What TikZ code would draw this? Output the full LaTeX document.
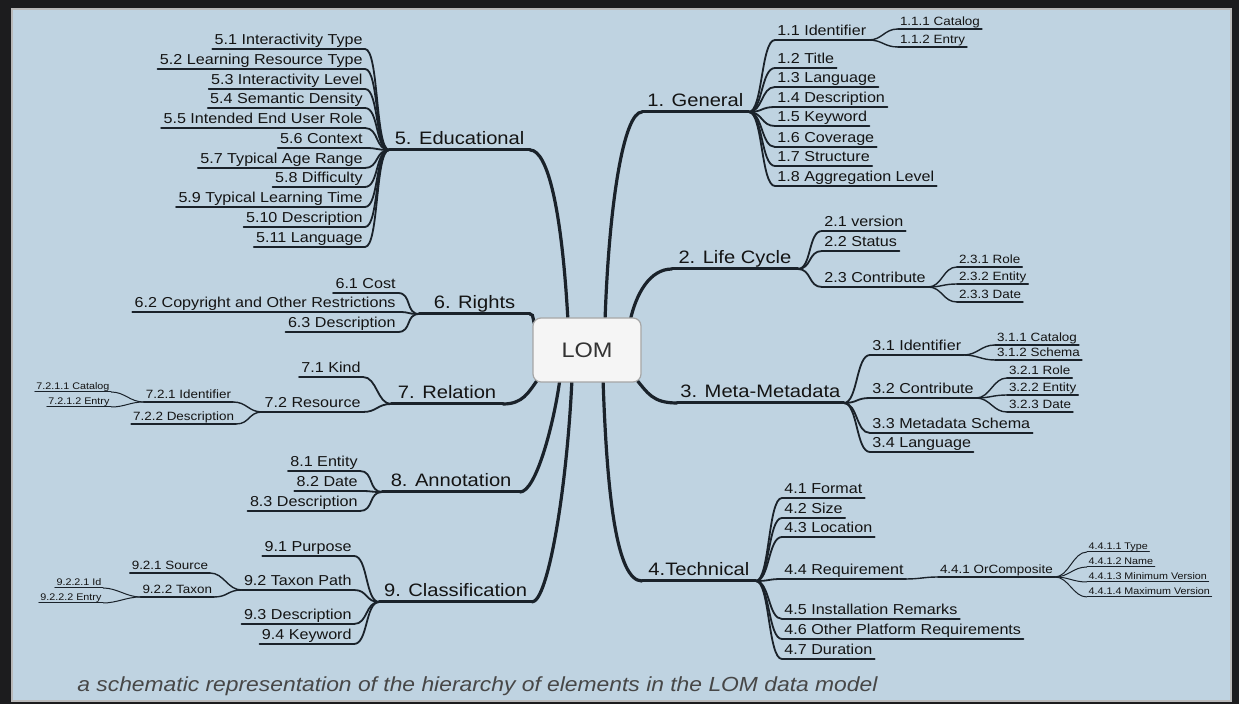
\documentclass[tikz,border=0pt]{standalone}
\usepackage{fontspec}
\setmainfont{Liberation Sans}[FakeStretch=1.12]
\usepackage{tikz}
\usetikzlibrary{backgrounds}

\definecolor{paneblue}{RGB}{191,211,225}
\definecolor{framedark}{RGB}{28,28,30}
\definecolor{inkline}{RGB}{26,34,42}
\definecolor{inktext}{RGB}{20,20,20}

\tikzset{
  uline/.style={append after command={(\tikzlastnode.south west)
      edge[draw=inkline, line width=#1, line cap=round] (\tikzlastnode.south east)}},
  mainlbl/.style={font=\fontsize{9}{10}\selectfont, text=inktext,
      inner xsep=1pt, inner ysep=0pt, text height=7pt, text depth=2.5pt, uline=1.5pt},
  lvltwo/.style={font=\fontsize{7.2}{8}\selectfont, text=inktext,
      inner xsep=1pt, inner ysep=0pt, text height=5.6pt, text depth=2pt, uline=0.9pt},
  lvlthree/.style={font=\fontsize{6}{7}\selectfont, text=inktext,
      inner xsep=0.8pt, inner ysep=0pt, text height=4.6pt, text depth=1.3pt, uline=0.7pt},
  lvlfour/.style={font=\fontsize{4.8}{5.5}\selectfont, text=inktext,
      inner xsep=0.6pt, inner ysep=0pt, text height=3.7pt, text depth=1pt, uline=0.5pt},
  lombox/.style={draw=gray!70, fill=gray!8, rounded corners=4pt, line width=0.6pt,
      minimum width=54pt, minimum height=32pt, font=\fontsize{10.5}{12}\selectfont, text=black!80},
  twig/.style={to path={.. controls +(#1,0) and +(-#1,0) .. (\tikztotarget)}},
  twig/.default=14,
  trunk/.style={draw=inkline, line width=1.6pt, line cap=round},
  twotwig/.style={draw=inkline, line width=0.9pt, twig},
  threetwig/.style={draw=inkline, line width=0.7pt, twig},
  fourtwig/.style={draw=inkline, line width=0.5pt, twig},
  caption/.style={font=\fontsize{10.2}{12}\selectfont\itshape, text=black!72, inner sep=0pt}
}

\begin{document}
\begin{tikzpicture}[x=0.5pt, y=-0.5pt]
\useasboundingbox (0, 0) rectangle (1239, 704);
\begin{scope}[on background layer]
\fill[framedark] (0, 0) rectangle (1239, 704);
\draw[gray!55, line width=0.8pt, fill=paneblue] (12, 9) rectangle (1231, 701);
\end{scope}

% centre
\draw (587, 350) node[lombox] (lom) {LOM};

% main branches
\draw (642, 112) node[mainlbl, anchor=south west, minimum width=53pt] (gen) {1. General};
\draw (672, 269) node[mainlbl, anchor=south west, minimum width=62.5pt] (life) {2. Life Cycle};
\draw (677, 403) node[mainlbl, anchor=south west, minimum width=83pt] (meta) {3. Meta-Metadata};
\draw (642, 581) node[mainlbl, anchor=south west, minimum width=56.5pt] (tech) {4.Technical};
\draw (530, 150) node[mainlbl, anchor=south east, minimum width=70pt] (edu) {5. Educational};
\draw (530, 314) node[mainlbl, anchor=south east, minimum width=55pt] (rights) {6. Rights};
\draw (503, 404) node[mainlbl, anchor=south east, minimum width=55.5pt] (rel) {7. Relation};
\draw (520, 492) node[mainlbl, anchor=south east, minimum width=68.5pt] (ann) {8. Annotation};
\draw (532, 602) node[mainlbl, anchor=south east, minimum width=76pt] (cls) {9. Classification};

% 1. General
\draw (775, 40) node[lvltwo, anchor=south west] (g1) {1.1 Identifier};
\draw (775, 68) node[lvltwo, anchor=south west] (g2) {1.2 Title};
\draw (775, 87) node[lvltwo, anchor=south west] (g3) {1.3 Language};
\draw (775, 107) node[lvltwo, anchor=south west] (g4) {1.4 Description};
\draw (775, 126) node[lvltwo, anchor=south west] (g5) {1.5 Keyword};
\draw (775, 147) node[lvltwo, anchor=south west] (g6) {1.6 Coverage};
\draw (775, 166) node[lvltwo, anchor=south west] (g7) {1.7 Structure};
\draw (775, 186) node[lvltwo, anchor=south west] (g8) {1.8 Aggregation Level};
\draw (898, 29) node[lvlthree, anchor=south west] (g11) {1.1.1 Catalog};
\draw (898, 47) node[lvlthree, anchor=south west] (g12) {1.1.2 Entry};

% 2. Life Cycle
\draw (822, 231) node[lvltwo, anchor=south west] (l1) {2.1 version};
\draw (822, 251) node[lvltwo, anchor=south west] (l2) {2.2 Status};
\draw (822, 287) node[lvltwo, anchor=south west] (l3) {2.3 Contribute};
\draw (957, 267) node[lvlthree, anchor=south west] (l31) {2.3.1 Role};
\draw (957, 284) node[lvlthree, anchor=south west] (l32) {2.3.2 Entity};
\draw (957, 302) node[lvlthree, anchor=south west] (l33) {2.3.3 Date};

% 3. Meta-Metadata
\draw (870, 355) node[lvltwo, anchor=south west] (m1) {3.1 Identifier};
\draw (870, 398) node[lvltwo, anchor=south west] (m2) {3.2 Contribute};
\draw (870, 433) node[lvltwo, anchor=south west] (m3) {3.3 Metadata Schema};
\draw (870, 452) node[lvltwo, anchor=south west] (m4) {3.4 Language};
\draw (995, 345) node[lvlthree, anchor=south west] (m11) {3.1.1 Catalog};
\draw (995, 360) node[lvlthree, anchor=south west] (m12) {3.1.2 Schema};
\draw (1007, 378) node[lvlthree, anchor=south west] (m21) {3.2.1 Role};
\draw (1007, 395) node[lvlthree, anchor=south west] (m22) {3.2.2 Entity};
\draw (1007, 412) node[lvlthree, anchor=south west] (m23) {3.2.3 Date};

% 4.Technical
\draw (782, 498) node[lvltwo, anchor=south west] (t1) {4.1 Format};
\draw (782, 518) node[lvltwo, anchor=south west] (t2) {4.2 Size};
\draw (782, 537) node[lvltwo, anchor=south west] (t3) {4.3 Location};
\draw (782, 579) node[lvltwo, anchor=south west] (t4) {4.4 Requirement};
\draw (782, 619) node[lvltwo, anchor=south west] (t5) {4.5 Installation Remarks};
\draw (782, 639) node[lvltwo, anchor=south west] (t6) {4.6 Other Platform Requirements};
\draw (782, 659) node[lvltwo, anchor=south west] (t7) {4.7 Duration};
\draw (938, 577) node[lvlthree, anchor=south west] (t41) {4.4.1 OrComposite};
\draw (1087, 552) node[lvlfour, anchor=south west] (t411) {4.4.1.1 Type};
\draw (1087, 567) node[lvlfour, anchor=south west] (t412) {4.4.1.2 Name};
\draw (1087, 582) node[lvlfour, anchor=south west] (t413) {4.4.1.3 Minimum Version};
\draw (1087, 597) node[lvlfour, anchor=south west] (t414) {4.4.1.4 Maximum Version};

% 5. Educational
\draw (365, 49) node[lvltwo, anchor=south east] (e1) {5.1 Interactivity Type};
\draw (365, 69) node[lvltwo, anchor=south east] (e2) {5.2 Learning Resource Type};
\draw (365, 89) node[lvltwo, anchor=south east] (e3) {5.3 Interactivity Level};
\draw (365, 108) node[lvltwo, anchor=south east] (e4) {5.4 Semantic Density};
\draw (365, 128) node[lvltwo, anchor=south east] (e5) {5.5 Intended End User Role};
\draw (365, 148) node[lvltwo, anchor=south east] (e6) {5.6 Context};
\draw (365, 168) node[lvltwo, anchor=south east] (e7) {5.7 Typical Age Range};
\draw (365, 187) node[lvltwo, anchor=south east] (e8) {5.8 Difficulty};
\draw (365, 207) node[lvltwo, anchor=south east] (e9) {5.9 Typical Learning Time};
\draw (365, 227) node[lvltwo, anchor=south east] (e10) {5.10 Description};
\draw (365, 247) node[lvltwo, anchor=south east] (e11) {5.11 Language};

% 6. Rights
\draw (398, 293) node[lvltwo, anchor=south east] (r1) {6.1 Cost};
\draw (398, 312) node[lvltwo, anchor=south east] (r2) {6.2 Copyright and Other Restrictions};
\draw (398, 332) node[lvltwo, anchor=south east] (r3) {6.3 Description};

% 7. Relation
\draw (363, 377) node[lvltwo, anchor=south east] (rl1) {7.1 Kind};
\draw (363, 412) node[lvltwo, anchor=south east] (rl2) {7.2 Resource};
\draw (233, 402) node[lvlthree, anchor=south east] (rl21) {7.2.1 Identifier};
\draw (236, 424) node[lvlthree, anchor=south east] (rl22) {7.2.2 Description};
\draw (111, 392) node[lvlfour, anchor=south east] (rl211) {7.2.1.1 Catalog};
\draw (111, 407) node[lvlfour, anchor=south east] (rl212) {7.2.1.2 Entry};

% 8. Annotation
\draw (360, 471) node[lvltwo, anchor=south east] (a1) {8.1 Entity};
\draw (360, 491) node[lvltwo, anchor=south east] (a2) {8.2 Date};
\draw (360, 511) node[lvltwo, anchor=south east] (a3) {8.3 Description};

% 9. Classification
\draw (354, 556) node[lvltwo, anchor=south east] (c1) {9.1 Purpose};
\draw (354, 590) node[lvltwo, anchor=south east] (c2) {9.2 Taxon Path};
\draw (354, 624) node[lvltwo, anchor=south east] (c3) {9.3 Description};
\draw (354, 644) node[lvltwo, anchor=south east] (c4) {9.4 Keyword};
\draw (210, 573) node[lvlthree, anchor=south east] (c21) {9.2.1 Source};
\draw (214, 597) node[lvlthree, anchor=south east] (c22) {9.2.2 Taxon};
\draw (103, 588) node[lvlfour, anchor=south east] (c221) {9.2.2.1 Id};
\draw (103, 603) node[lvlfour, anchor=south east] (c222) {9.2.2.2 Entry};

% trunks into the centre box
\begin{scope}[on background layer]
\draw[trunk] (gen.south west) .. controls +(-18,0) and +(4,-120) .. ([xshift=9pt, yshift=-2pt]lom.north);
\draw[trunk] (life.south west) .. controls +(-22,0) and +(6,-28) .. ([xshift=21.5pt, yshift=-2pt]lom.north);
\draw[trunk] (meta.south west) .. controls +(-25,0) and +(12,14) .. ([xshift=-3pt, yshift=2pt]lom.south east);
\draw[trunk] (tech.south west) .. controls +(-25,0) and +(4,120) .. ([xshift=8pt, yshift=2pt]lom.south);
\draw[trunk] (edu.south east) .. controls +(18,0) and +(-6,-110) .. ([xshift=-9.5pt, yshift=-2pt]lom.north);
\draw[trunk] (rights.south east) .. controls +(5,0) and +(-5,-4) .. ([xshift=2pt, yshift=12pt]lom.west);
\draw[trunk] (rel.south east) .. controls +(20,0) and +(-10,14) .. ([xshift=3pt, yshift=2pt]lom.south west);
\draw[trunk] (ann.south east) .. controls +(16,0) and +(-6,45) .. ([xshift=-13.5pt, yshift=2pt]lom.south);
\draw[trunk] (cls.south east) .. controls +(16,0) and +(-5,110) .. ([xshift=-7.5pt, yshift=2pt]lom.south);
\end{scope}

% twigs
\draw[twotwig] (gen.south east) to (g1.south west);
\draw[twotwig] (gen.south east) to (g2.south west);
\draw[twotwig] (gen.south east) to (g3.south west);
\draw[twotwig] (gen.south east) to (g4.south west);
\draw[twotwig] (gen.south east) to (g5.south west);
\draw[twotwig] (gen.south east) to (g6.south west);
\draw[twotwig] (gen.south east) to (g7.south west);
\draw[twotwig] (gen.south east) to (g8.south west);
\draw[threetwig] (g1.south east) to (g11.south west);
\draw[threetwig] (g1.south east) to (g12.south west);

\draw[twotwig] (life.south east) to (l1.south west);
\draw[twotwig] (life.south east) to (l2.south west);
\draw[twotwig] (life.south east) to (l3.south west);
\draw[threetwig] (l3.south east) to (l31.south west);
\draw[threetwig] (l3.south east) to (l32.south west);
\draw[threetwig] (l3.south east) to (l33.south west);

\draw[twotwig] (meta.south east) to (m1.south west);
\draw[twotwig] (meta.south east) to (m2.south west);
\draw[twotwig] (meta.south east) to (m3.south west);
\draw[twotwig] (meta.south east) to (m4.south west);
\draw[threetwig] (m1.south east) to (m11.south west);
\draw[threetwig] (m1.south east) to (m12.south west);
\draw[threetwig] (m2.south east) to (m21.south west);
\draw[threetwig] (m2.south east) to (m22.south west);
\draw[threetwig] (m2.south east) to (m23.south west);

\draw[twotwig] (tech.south east) to (t1.south west);
\draw[twotwig] (tech.south east) to (t2.south west);
\draw[twotwig] (tech.south east) to (t3.south west);
\draw[twotwig] (tech.south east) to (t4.south west);
\draw[twotwig] (tech.south east) to (t5.south west);
\draw[twotwig] (tech.south east) to (t6.south west);
\draw[twotwig] (tech.south east) to (t7.south west);
\draw[threetwig] (t4.south east) to (t41.south west);
\draw[fourtwig] (t41.south east) to (t411.south west);
\draw[fourtwig] (t41.south east) to (t412.south west);
\draw[fourtwig] (t41.south east) to (t413.south west);
\draw[fourtwig] (t41.south east) to (t414.south west);

\draw[twotwig] (e1.south east) to (edu.south west);
\draw[twotwig] (e2.south east) to (edu.south west);
\draw[twotwig] (e3.south east) to (edu.south west);
\draw[twotwig] (e4.south east) to (edu.south west);
\draw[twotwig] (e5.south east) to (edu.south west);
\draw[twotwig] (e6.south east) to (edu.south west);
\draw[twotwig] (e7.south east) to (edu.south west);
\draw[twotwig] (e8.south east) to (edu.south west);
\draw[twotwig] (e9.south east) to (edu.south west);
\draw[twotwig] (e10.south east) to (edu.south west);
\draw[twotwig] (e11.south east) to (edu.south west);

\draw[twotwig] (r1.south east) to (rights.south west);
\draw[twotwig] (r2.south east) to (rights.south west);
\draw[twotwig] (r3.south east) to (rights.south west);

\draw[twotwig] (rl1.south east) to (rel.south west);
\draw[twotwig] (rl2.south east) to (rel.south west);
\draw[threetwig] (rl21.south east) to (rl2.south west);
\draw[threetwig] (rl22.south east) to (rl2.south west);
\draw[fourtwig] (rl211.south east) to (rl21.south west);
\draw[fourtwig] (rl212.south east) to (rl21.south west);

\draw[twotwig] (a1.south east) to (ann.south west);
\draw[twotwig] (a2.south east) to (ann.south west);
\draw[twotwig] (a3.south east) to (ann.south west);

\draw[twotwig] (c1.south east) to (cls.south west);
\draw[twotwig] (c2.south east) to (cls.south west);
\draw[twotwig] (c3.south east) to (cls.south west);
\draw[twotwig] (c4.south east) to (cls.south west);
\draw[threetwig] (c21.south east) to (c2.south west);
\draw[threetwig] (c22.south east) to (c2.south west);
\draw[fourtwig] (c221.south east) to (c22.south west);
\draw[fourtwig] (c222.south east) to (c22.south west);

% caption
\draw (77, 692) node[caption, anchor=base west] (capt) {a schematic representation of the hierarchy of elements in the LOM data model};
\end{tikzpicture}
\end{document}
